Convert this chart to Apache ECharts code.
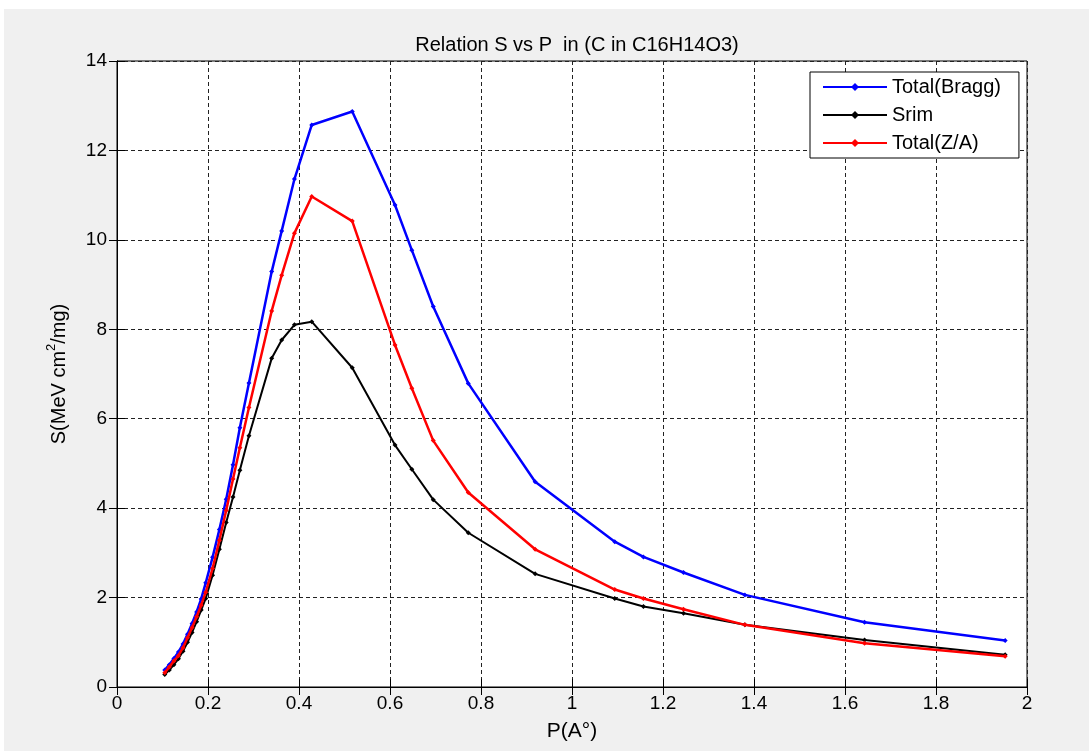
<!DOCTYPE html>
<html>
<head>
<meta charset="utf-8">
<script src="https://cdn.jsdelivr.net/npm/echarts@6/dist/echarts.min.js"></script>
<style>
html,body{margin:0;padding:0;background:#fff;}
#c{width:1089px;height:751px;}
</style>
</head>
<body>
<div id="c"></div>
<script>
// ---- data ----
var pValues = [0.105,0.115,0.125,0.135,0.145,0.155,0.165,0.175,0.185,0.195,0.21,0.225,0.24,0.255,0.27,0.29,0.34,0.362,0.39,0.428,0.517,0.611,0.648,0.695,0.772,0.919,1.094,1.157,1.245,1.38,1.643,1.952];
var totalBragg = [0.38,0.50,0.64,0.78,0.96,1.18,1.42,1.68,1.97,2.33,2.90,3.52,4.20,4.97,5.80,6.80,9.29,10.20,11.36,12.57,12.87,10.78,9.77,8.51,6.79,4.59,3.25,2.91,2.56,2.06,1.45,1.04];
var srim = [0.28,0.38,0.50,0.63,0.80,1.00,1.22,1.46,1.72,1.98,2.50,3.08,3.68,4.25,4.85,5.62,7.35,7.76,8.10,8.17,7.14,5.41,4.87,4.19,3.45,2.53,1.98,1.80,1.65,1.39,1.05,0.72];
var totalZA = [0.32,0.45,0.58,0.70,0.88,1.10,1.33,1.57,1.83,2.12,2.65,3.28,3.95,4.65,5.35,6.25,8.41,9.21,10.15,10.97,10.42,7.65,6.68,5.51,4.35,3.08,2.18,1.98,1.74,1.39,0.98,0.69];
var seriesNames = ['Total(Bragg)','Srim','Total(Z/A)'];
var seriesColors = ['#0000ff','#000000','#ff0000'];
var xTicks = {min:0, max:2, interval:0.2};
var yTicks = {min:0, max:14, interval:2};

function pairs(xs, ys){ return xs.map(function(x,i){return [x, ys[i]];}); }
var allData = [totalBragg, srim, totalZA];
var widths = [2.5, 2, 2.5];

var FONT = 'Liberation Sans, Arial, sans-serif';
var chart = echarts.init(document.getElementById('c'), null, {renderer:'canvas'});

var gridLine = {show:true, lineStyle:{color:'#222', type:[4,3], width:1}};

var option = {
  backgroundColor:'#f0f0f0',
  animation:false,
  title:{
    text:'Relation S vs P  in (C in C16H14O3)',
    left:572, top:30, textAlign:'center',
    textStyle:{fontFamily:FONT, fontSize:20, fontWeight:'normal', color:'#000'}
  },
  graphic:[
    {type:'rect', shape:{x:0,y:0,width:1089,height:9}, style:{fill:'#fff'}, silent:true},
    {type:'rect', shape:{x:0,y:0,width:4,height:751}, style:{fill:'#fff'}, silent:true}
  ],
  legend:{
    data:seriesNames,
    orient:'vertical',
    left:810, top:72,
    itemWidth:64, itemHeight:10, itemGap:8,
    padding:[5,18,5,12],
    backgroundColor:'#fff',
    borderColor:'#000', borderWidth:1,
    textStyle:{fontFamily:FONT, fontSize:20, color:'#000'}
  },
  grid:{left:117, top:61, width:910, height:626, show:true, backgroundColor:'#fff', borderColor:'#000', borderWidth:1, containLabel:false},
  xAxis:[{
    type:'value', min:xTicks.min, max:xTicks.max, interval:xTicks.interval,
    name:'P(A°)', nameLocation:'middle', nameGap:34,
    nameTextStyle:{fontFamily:FONT, fontSize:21, color:'#000'},
    axisLine:{show:true, onZero:false, lineStyle:{color:'#000', width:1}},
    axisTick:{show:true, inside:true, length:8, lineStyle:{color:'#000'}},
    axisLabel:{fontFamily:FONT, fontSize:19, color:'#000', margin:7},
    splitLine:gridLine
  },{
    type:'value', position:'top', min:xTicks.min, max:xTicks.max, interval:xTicks.interval,
    axisLine:{show:true, lineStyle:{color:'#000'}},
    axisTick:{show:true, inside:true, length:8, lineStyle:{color:'#000'}},
    axisLabel:{show:false}, splitLine:{show:false}
  }],
  yAxis:[{
    type:'value', min:yTicks.min, max:yTicks.max, interval:yTicks.interval,
    name:'{a|S(MeV cm}{s|2}{a|/mg)}', nameLocation:'middle', nameGap:48, nameRotate:90,
    nameTextStyle:{fontFamily:FONT, fontSize:20, color:'#000',
      rich:{a:{fontFamily:FONT, fontSize:20, color:'#000', verticalAlign:'bottom', lineHeight:24},
            s:{fontFamily:FONT, fontSize:13, color:'#000', verticalAlign:'top', lineHeight:24, padding:[0,0,10,0]}}},
    axisLine:{show:true, onZero:false, lineStyle:{color:'#000', width:1}},
    axisTick:{show:true, inside:true, length:8, lineStyle:{color:'#000'}},
    axisLabel:{fontFamily:FONT, fontSize:19, color:'#000', margin:10},
    splitLine:gridLine
  },{
    type:'value', position:'right', min:yTicks.min, max:yTicks.max, interval:yTicks.interval,
    axisLine:{show:true, lineStyle:{color:'#000'}},
    axisTick:{show:true, inside:true, length:8, lineStyle:{color:'#000'}},
    axisLabel:{show:false}, splitLine:{show:false}
  }],
  series: seriesNames.map(function(n,i){
    return {
      name:n, type:'line', xAxisIndex:0, yAxisIndex:0,
      data:pairs(pValues, allData[i]),
      symbol:'diamond', symbolSize:5, showSymbol:true,
      lineStyle:{color:seriesColors[i], width:widths[i]},
      itemStyle:{color:seriesColors[i]},
      z: i===1 ? 3 : (i===2 ? 4 : 2)
    };
  })
};
chart.setOption(option);
</script>
</body>
</html>
